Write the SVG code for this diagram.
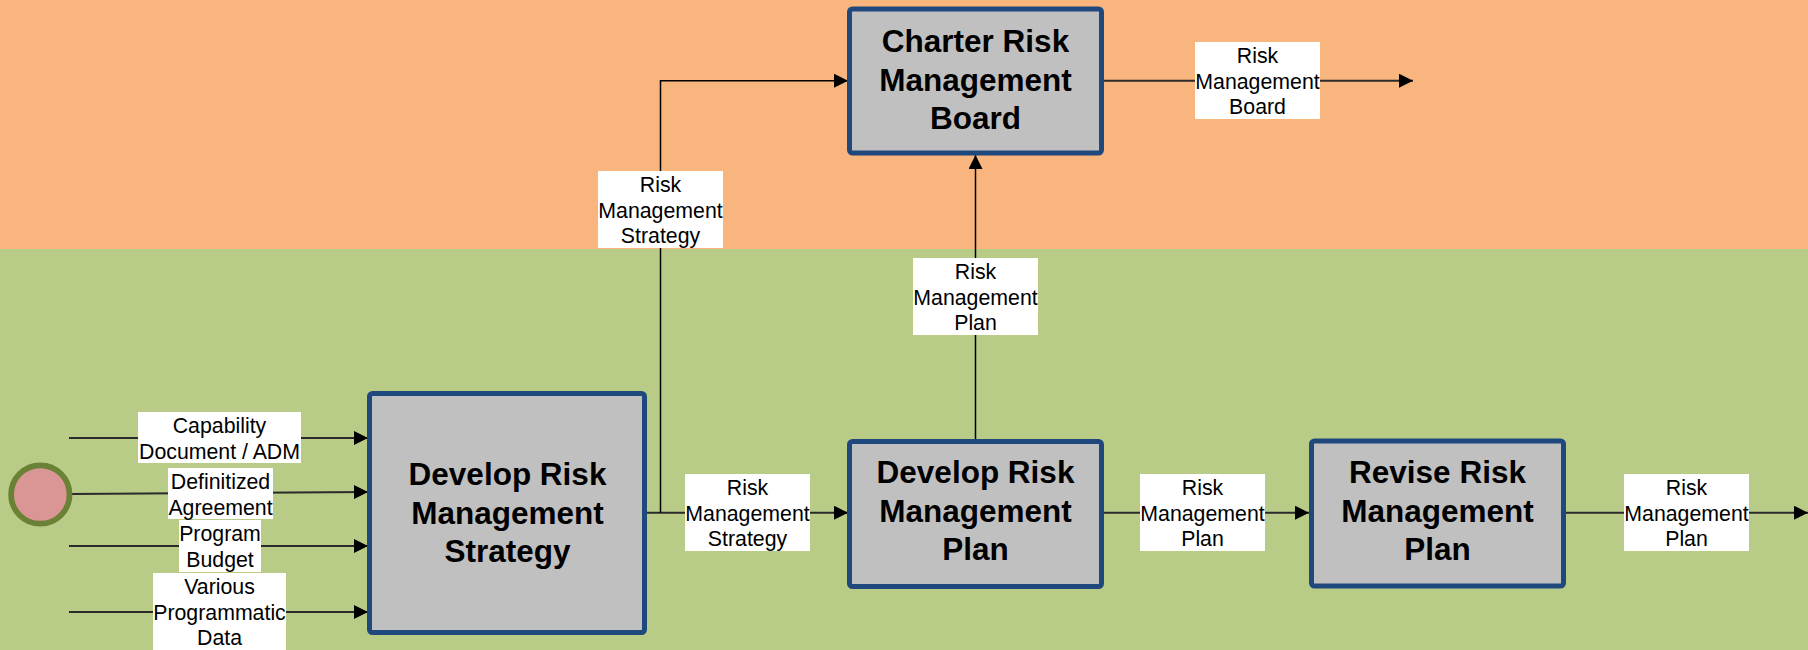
<svg xmlns="http://www.w3.org/2000/svg" width="1808" height="650" viewBox="0 0 1808 650">
<defs>
<style>
.node rect.box{fill:#C0C0C0;stroke:#1F497D;stroke-width:5}
.title{font-family:"Liberation Sans",Arial,sans-serif;font-weight:bold;font-size:31.5px;fill:#000;text-anchor:middle}
.lbl rect{fill:#FFFFFF}
.lbl text{font-family:"Liberation Sans",Arial,sans-serif;font-size:21.3px;fill:#000;text-anchor:middle}
.h{fill:none;stroke:#2a2a2a;stroke-width:2}
.v{fill:none;stroke:#000;stroke-width:1.5}
</style>
<marker id="arr" markerUnits="userSpaceOnUse" markerWidth="14" markerHeight="14" refX="14" refY="7" orient="auto">
<path d="M0,0 L14,7 L0,14 z" fill="#000"/>
</marker>
</defs>
<rect x="0" y="0" width="1808" height="249" fill="#F9B57E"/>
<rect x="0" y="249" width="1808" height="401" fill="#B8CC88"/>

<g id="connectors">
<line class="h" x1="69" y1="438" x2="368" y2="438" marker-end="url(#arr)"/>
<line class="h" x1="71" y1="494" x2="368" y2="492" marker-end="url(#arr)"/>
<line class="h" x1="69" y1="546" x2="368" y2="546" marker-end="url(#arr)"/>
<line class="h" x1="69" y1="612" x2="368" y2="612" marker-end="url(#arr)"/>
<line class="h" x1="647" y1="512.7" x2="848" y2="512.7" marker-end="url(#arr)"/>
<polyline class="v" points="660.5,512.7 660.5,80.7 848,80.7" marker-end="url(#arr)"/>
<line class="v" x1="975.5" y1="439" x2="975.5" y2="155" marker-end="url(#arr)"/>
<line class="h" x1="1104" y1="80.7" x2="1413" y2="80.7" marker-end="url(#arr)"/>
<line class="h" x1="1104" y1="512.7" x2="1309" y2="512.7" marker-end="url(#arr)"/>
<line class="h" x1="1566" y1="512.7" x2="1808" y2="512.7" marker-end="url(#arr)"/>
</g>

<g id="start">
<circle cx="40.3" cy="494.5" r="29.2" fill="#D99694" stroke="#6A8235" stroke-width="5.7"/>
</g>

<g id="develop-strategy" class="node">
<rect class="box" x="369.5" y="393.5" width="275" height="239" rx="3"/>
<text class="title" x="507.5" y="485">Develop Risk</text>
<text class="title" x="507.5" y="523.5">Management</text>
<text class="title" x="507.5" y="562">Strategy</text>
</g>

<g id="develop-plan" class="node">
<rect class="box" x="849.5" y="441.5" width="252" height="145" rx="3"/>
<text class="title" x="975.5" y="483">Develop Risk</text>
<text class="title" x="975.5" y="521.7">Management</text>
<text class="title" x="975.5" y="560.4">Plan</text>
</g>

<g id="revise-plan" class="node">
<rect class="box" x="1311.5" y="441" width="252" height="145" rx="3"/>
<text class="title" x="1437.5" y="483">Revise Risk</text>
<text class="title" x="1437.5" y="521.7">Management</text>
<text class="title" x="1437.5" y="560.4">Plan</text>
</g>

<g id="charter-board" class="node">
<rect class="box" x="849.5" y="9" width="252" height="144" rx="3"/>
<text class="title" x="975.5" y="52">Charter Risk</text>
<text class="title" x="975.5" y="90.5">Management</text>
<text class="title" x="975.5" y="129">Board</text>
</g>

<g id="labels">
<g class="lbl" id="lbl-capability">
<rect x="138" y="412" width="163" height="51"/>
<text x="219.5" y="433">Capability</text>
<text x="219.5" y="458.5">Document / ADM</text>
</g>
<g class="lbl" id="lbl-definitized">
<rect x="168" y="468" width="105" height="51"/>
<text x="220.5" y="489">Definitized</text>
<text x="220.5" y="514.5">Agreement</text>
</g>
<g class="lbl" id="lbl-budget">
<rect x="179" y="520" width="82" height="52"/>
<text x="220" y="541">Program</text>
<text x="220" y="566.5">Budget</text>
</g>
<g class="lbl" id="lbl-various">
<rect x="153" y="573" width="133" height="77"/>
<text x="219.5" y="594">Various</text>
<text x="219.5" y="619.5">Programmatic</text>
<text x="219.5" y="645">Data</text>
</g>
<g class="lbl" id="lbl-strategy-top">
<rect x="598" y="171" width="125" height="77"/>
<text x="660.5" y="192">Risk</text>
<text x="660.5" y="217.5">Management</text>
<text x="660.5" y="243">Strategy</text>
</g>
<g class="lbl" id="lbl-board">
<rect x="1195" y="42" width="125" height="77"/>
<text x="1257.5" y="63">Risk</text>
<text x="1257.5" y="88.5">Management</text>
<text x="1257.5" y="114">Board</text>
</g>
<g class="lbl" id="lbl-plan-up">
<rect x="913" y="258" width="125" height="77"/>
<text x="975.5" y="279">Risk</text>
<text x="975.5" y="304.5">Management</text>
<text x="975.5" y="330">Plan</text>
</g>
<g class="lbl" id="lbl-strategy-bottom">
<rect x="685" y="474" width="125" height="77"/>
<text x="747.5" y="495">Risk</text>
<text x="747.5" y="520.5">Management</text>
<text x="747.5" y="546">Strategy</text>
</g>
<g class="lbl" id="lbl-plan-mid">
<rect x="1140" y="474" width="125" height="77"/>
<text x="1202.5" y="495">Risk</text>
<text x="1202.5" y="520.5">Management</text>
<text x="1202.5" y="546">Plan</text>
</g>
<g class="lbl" id="lbl-plan-out">
<rect x="1624" y="474" width="125" height="77"/>
<text x="1686.5" y="495">Risk</text>
<text x="1686.5" y="520.5">Management</text>
<text x="1686.5" y="546">Plan</text>
</g>
</g>
</svg>
